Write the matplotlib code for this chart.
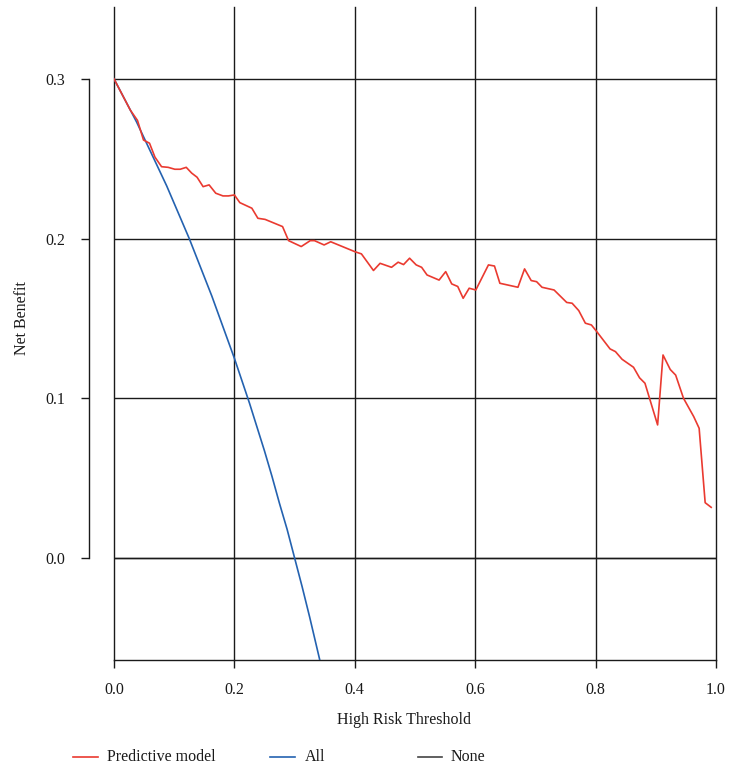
import matplotlib
matplotlib.use("Agg")
import matplotlib.pyplot as plt
from matplotlib.lines import Line2D

plt.rcParams["font.family"] = ["Liberation Serif", "DejaVu Serif"]

# predictive model net benefit
model_thresh = [0.0, 0.027, 0.039, 0.049, 0.059, 0.068, 0.079, 0.09, 0.101, 0.11,
                0.12, 0.129, 0.138, 0.148, 0.158, 0.169, 0.181, 0.19, 0.2, 0.209,
                0.229, 0.239, 0.251, 0.28, 0.29, 0.311, 0.326, 0.333, 0.349, 0.36,
                0.4, 0.411, 0.431, 0.442, 0.461, 0.472, 0.481, 0.491, 0.502, 0.511,
                0.52, 0.54, 0.551, 0.561, 0.571, 0.58, 0.59, 0.601, 0.622, 0.632,
                0.641, 0.671, 0.682, 0.693, 0.702, 0.711, 0.731, 0.752, 0.761, 0.772,
                0.783, 0.793, 0.802, 0.824, 0.833, 0.844, 0.863, 0.873, 0.882, 0.903,
                0.912, 0.924, 0.933, 0.946, 0.963, 0.972, 0.982, 0.992]
model_nb = [0.300, 0.2805, 0.274, 0.2617, 0.2597, 0.251, 0.245, 0.2446, 0.2434, 0.2434,
            0.2446, 0.241, 0.2384, 0.2325, 0.2336, 0.2284, 0.2267, 0.2267, 0.2273, 0.2225,
            0.219, 0.2127, 0.212, 0.2075, 0.1987, 0.195, 0.1987, 0.1987, 0.196, 0.198,
            0.1918, 0.1904, 0.180, 0.1845, 0.182, 0.1852, 0.1837, 0.1877, 0.1835, 0.182,
            0.1772, 0.174, 0.1793, 0.1716, 0.170, 0.1626, 0.1689, 0.1678, 0.1835, 0.1828,
            0.172, 0.1695, 0.181, 0.1737, 0.173, 0.1695, 0.1678, 0.160, 0.1595, 0.1549,
            0.147, 0.1459, 0.1417, 0.1309, 0.1292, 0.1244, 0.1194, 0.1128, 0.1094, 0.0833,
            0.1271, 0.118, 0.1145, 0.100, 0.0885, 0.0812, 0.0346, 0.0317]

# treat-all curve
all_thresh = [0.0, 0.0125, 0.025, 0.0375, 0.05, 0.0625, 0.075, 0.0875, 0.1, 0.1125,
              0.125, 0.1375, 0.15, 0.1625, 0.175, 0.1875, 0.2, 0.2125, 0.225, 0.2375,
              0.25, 0.2625, 0.275, 0.2875, 0.3, 0.3125, 0.325, 0.3375, 0.35]
all_nb = [0.300, 0.291, 0.282, 0.273, 0.263, 0.253, 0.243, 0.233, 0.222, 0.211,
          0.200, 0.188, 0.176, 0.164, 0.151, 0.138, 0.125, 0.111, 0.097, 0.082,
          0.067, 0.051, 0.034, 0.018, 0.0, -0.018, -0.037, -0.057, -0.077]

# treat-none
none_thresh = [0.0, 1.0]
none_nb = [0.0, 0.0]

x_ticks = [0.0, 0.2, 0.4, 0.6, 0.8, 1.0]
y_ticks = [0.0, 0.1, 0.2, 0.3]

RED = "#EA3A30"
BLUE = "#2462B0"
BLACK = "#1a1a1a"

W, H = 734, 773
fig = plt.figure(figsize=(W / 100, H / 100), dpi=100)
ax = fig.add_axes([114 / W, (H - 660) / H, 602 / W, 653 / H])

ax.plot(none_thresh, none_nb, color=BLACK, lw=1.0, zorder=3)
ax.plot(all_thresh, all_nb, color=BLUE, lw=1.2, zorder=4)
ax.plot(model_thresh, model_nb, color=RED, lw=1.2, zorder=5)

ax.set_xlim(0, 1)
ax.set_ylim(-0.0639, 0.345)
ax.set_xticks(x_ticks)
ax.set_xticklabels([f"{v:.1f}" for v in x_ticks])
ax.set_yticks(y_ticks)
ax.set_yticklabels([f"{v:.1f}" for v in y_ticks], rotation=90, va="center")

ax.grid(True, color=BLACK, lw=1.0)
ax.set_axisbelow(True)
for gl in ax.get_xgridlines() + ax.get_ygridlines():
    gl.set_clip_on(False)

for s in ("top", "right"):
    ax.spines[s].set_visible(False)
ax.spines["left"].set_position(("outward", 18))
ax.spines["left"].set_bounds(0, 0.3)
ax.spines["bottom"].set_bounds(0, 1)
for s in ("left", "bottom"):
    ax.spines[s].set_color(BLACK)
    ax.spines[s].set_linewidth(1.0)

ax.tick_params(axis="both", direction="out", length=6, width=1.0,
               color=BLACK, labelsize=11.5, labelcolor=BLACK)
ax.tick_params(axis="x", pad=10)
ax.tick_params(axis="y", pad=11)

fig.text(404 / W, 1 - 720 / H, "High Risk Threshold", ha="center", va="center",
         fontsize=11.5, color=BLACK)
fig.text(22 / W, 1 - 318 / H, "Net Benefit", ha="center", va="center",
         rotation=90, fontsize=11.5, color=BLACK)

# legend row
ly = 1 - 757 / H
entries = [(73, 98, 107, RED, "Predictive model"),
           (270, 295, 305, BLUE, "All"),
           (418, 442, 451, "#444444", "None")]
for x0, x1, xt, col, lab in entries:
    fig.add_artist(Line2D([x0 / W, x1 / W], [ly, ly], color=col, lw=1.2))
    fig.text(xt / W, ly, lab, ha="left", va="center", fontsize=11.5, color=BLACK)

fig.savefig("out.png", dpi=100, facecolor="white")
